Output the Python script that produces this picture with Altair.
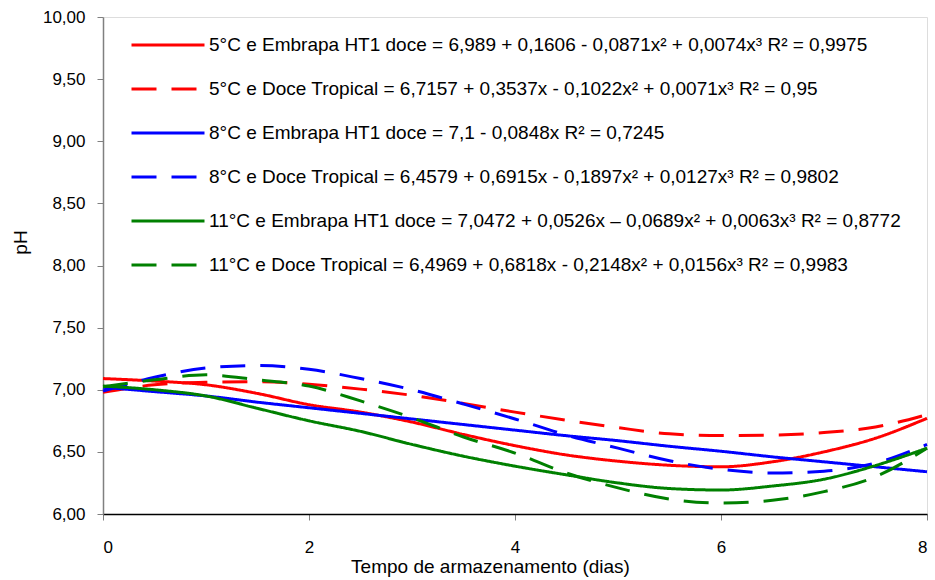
import altair as alt
import pandas as pd

# Storage time (days)
dias = [0, 0.5, 1, 1.5, 2, 2.5, 3, 3.5, 4, 4.5, 5, 5.5, 6, 6.5, 7, 7.5, 8]

series_names = [
    "5°C e Embrapa HT1 doce = 6,989 + 0,1606 - 0,0871x² + 0,0074x³ R² = 0,9975",
    "5°C e Doce Tropical = 6,7157 + 0,3537x - 0,1022x² + 0,0071x³ R² = 0,95",
    "8°C e Embrapa HT1 doce = 7,1 - 0,0848x R² = 0,7245",
    "8°C e Doce Tropical = 6,4579 + 0,6915x - 0,1897x² + 0,0127x³ R² = 0,9802",
    "11°C e Embrapa HT1 doce = 7,0472 + 0,0526x – 0,0689x² + 0,0063x³ R² = 0,8772",
    "11°C e Doce Tropical = 6,4969 + 0,6818x - 0,2148x² + 0,0156x³ R² = 0,9983",
]

ph_5_embrapa = [7.09, 7.07, 7.04, 6.97, 6.88, 6.82, 6.74, 6.64, 6.55, 6.475, 6.425, 6.392, 6.38, 6.42, 6.50, 6.61, 6.77]
ph_5_tropical = [6.98, 7.04, 7.06, 7.065, 7.045, 7.005, 6.955, 6.89, 6.82, 6.755, 6.695, 6.645, 6.632, 6.635, 6.655, 6.70, 6.80]
ph_8_embrapa = [7.02, 6.985, 6.95, 6.90, 6.855, 6.81, 6.765, 6.72, 6.675, 6.63, 6.59, 6.545, 6.505, 6.46, 6.42, 6.38, 6.34]
ph_8_tropical = [6.99, 7.10, 7.175, 7.195, 7.165, 7.09, 7.00, 6.885, 6.765, 6.635, 6.53, 6.428, 6.36, 6.33, 6.345, 6.41, 6.56]
ph_11_embrapa = [7.03, 7.00, 6.95, 6.85, 6.75, 6.665, 6.56, 6.465, 6.385, 6.315, 6.25, 6.205, 6.193, 6.225, 6.28, 6.39, 6.53]
ph_11_tropical = [7.025, 7.08, 7.12, 7.08, 7.03, 6.91, 6.775, 6.62, 6.49, 6.33, 6.21, 6.12, 6.088, 6.11, 6.18, 6.30, 6.53]

series_values = [ph_5_embrapa, ph_5_tropical, ph_8_embrapa, ph_8_tropical, ph_11_embrapa, ph_11_tropical]

colors = ["#FF0000", "#FF0000", "#0000FF", "#0000FF", "#008000", "#008000"]
dashes = [[1, 0], [25, 15], [1, 0], [25, 15], [1, 0], [25, 15]]

y_ticks = [6.0, 6.5, 7.0, 7.5, 8.0, 8.5, 9.0, 9.5, 10.0]
x_ticks = [0, 2, 4, 6, 8]

rows = []
for name, vals in zip(series_names, series_values):
    for d, v in zip(dias, vals):
        rows.append({"serie": name, "dias": d, "ph": v})
df = pd.DataFrame(rows)

FONT = "Liberation Sans"

legend = alt.Legend(
    orient="none",
    legendX=55.5,
    legendY=18.5,
    title=None,
    symbolType="M-4.5625,0H4.5625",
    symbolSize=256,
    symbolStrokeWidth=3,
    labelOffset=31.5,
    labelFontSize=19,
    labelFont=FONT,
    labelColor="#000000",
    labelLimit=1000,
    rowPadding=24,
    padding=0,
)

chart = alt.Chart(df).mark_line(strokeWidth=3, interpolate="monotone").encode(
    x=alt.X(
        "dias:Q",
        scale=alt.Scale(domain=[0, 8], nice=False),
        axis=alt.Axis(
            values=x_ticks,
            title="Tempo de armazenamento (dias)",
            titleFont=FONT,
            titleFontSize=19,
            titleFontWeight="normal",
            titleColor="#000000",
            titleX=387,
            titleY=58,
            titleBaseline="alphabetic",
            labelFont=FONT,
            labelFontSize=17,
            labelColor="#000000",
            labelPadding=19,
            tickSize=6,
            tickColor="#808080",
            domainColor="#000000",
            domainWidth=1.5,
            grid=False,
        ),
    ),
    y=alt.Y(
        "ph:Q",
        scale=alt.Scale(domain=[6, 10], nice=False, zero=False),
        axis=alt.Axis(
            values=y_ticks,
            labelExpr="replace(format(datum.value, '.2f'), '.', ',')",
            title="pH",
            titleFont=FONT,
            titleFontSize=19,
            titleFontWeight="normal",
            titleColor="#000000",
            titleX=-83,
            titleY=225,
            titleBaseline="middle",
            labelFont=FONT,
            labelFontSize=17,
            labelColor="#000000",
            labelPadding=12,
            tickSize=6,
            tickColor="#808080",
            domainColor="#808080",
            domainWidth=1.5,
            grid=False,
        ),
    ),
    color=alt.Color(
        "serie:N",
        scale=alt.Scale(domain=series_names, range=colors),
        legend=legend,
    ),
    strokeDash=alt.StrokeDash(
        "serie:N",
        scale=alt.Scale(domain=series_names, range=dashes),
        legend=legend,
    ),
).properties(
    width=824,
    height=497,
    padding={"left": 103, "top": 17, "right": 8, "bottom": 66},
    autosize="none",
).configure_view(stroke=None).configure(background="white")

chart.save("out.html", embed_options={"renderer": "svg", "actions": False})
